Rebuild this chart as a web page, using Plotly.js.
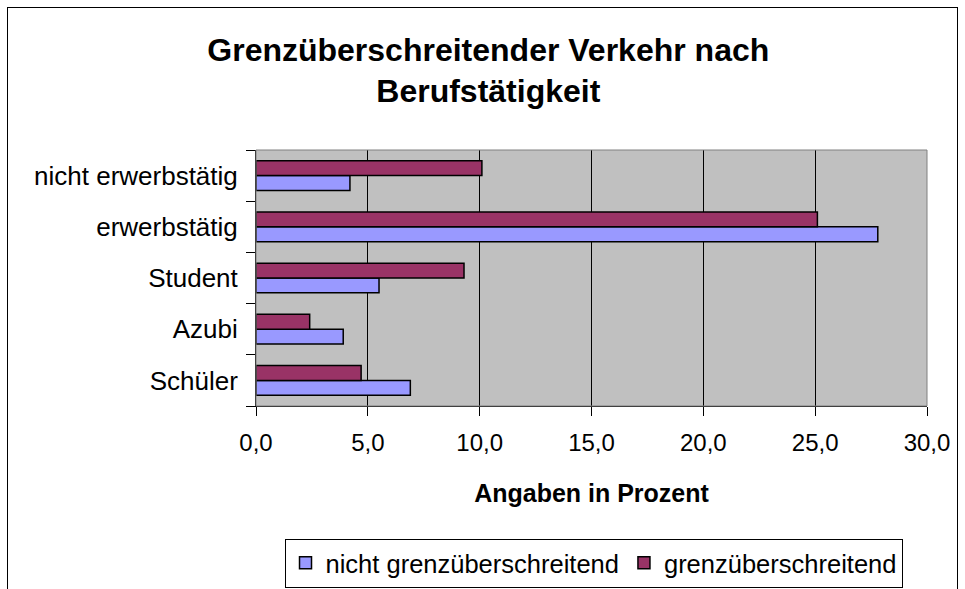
<!DOCTYPE html>
<html>
<head>
<meta charset="utf-8">
<script src="https://cdn.plot.ly/plotly-3.0.1.min.js"></script>
<style>
  html, body { margin: 0; padding: 0; background: #fff; overflow: hidden; }
  #chart { width: 965px; height: 589px; }
  #frame { position: absolute; left: 7px; top: 7px; width: 949px; height: 700px; border: 1px solid #000; pointer-events: none; }
</style>
</head>
<body>
<div id="chart"></div>
<div id="frame"></div>
<script>
const categories = ["Schüler", "Azubi", "Student", "erwerbstätig", "nicht erwerbstätig"];
const nichtGrenz = [6.9, 3.9, 5.5, 27.8, 4.2];
const grenz = [4.7, 2.4, 9.3, 25.1, 10.1];
const seriesNames = ["nicht grenzüberschreitend", "grenzüberschreitend"];
const tickVals = [0, 5, 10, 15, 20, 25, 30];

const FONT = "Arial, 'Liberation Sans', sans-serif";

const traces = [
  {
    type: "bar", orientation: "h", name: seriesNames[0],
    y: categories, x: nichtGrenz,
    marker: { color: "#9999FF", line: { color: "#000", width: 1.5 } }
  },
  {
    type: "bar", orientation: "h", name: seriesNames[1],
    y: categories, x: grenz,
    marker: { color: "#993366", line: { color: "#000", width: 1.5 } }
  }
];

const layout = {
  width: 965, height: 589,
  margin: { l: 256, r: 38, t: 150, b: 183, autoexpand: false },
  paper_bgcolor: "#fff",
  plot_bgcolor: "#C0C0C0",
  separators: ",.",
  font: { family: FONT, color: "#000", size: 24 },
  title: {
    text: "Grenzüberschreitender Verkehr nach<br>Berufstätigkeit",
    font: { family: FONT, size: 32, color: "#000", weight: "bold" },
    x: 0.506, xanchor: "center",
    y: 0.897, yanchor: "middle", yref: "container"
  },
  barmode: "group",
  bargap: 0.42,
  bargroupgap: 0,
  xaxis: {
    range: [0, 30],
    tickvals: tickVals,
    tickformat: ".1f",
    showgrid: true, gridcolor: "#000", gridwidth: 1,
    showline: true, linecolor: "#000", linewidth: 1,
    ticks: "outside", ticklen: 9, tickcolor: "#000",
    ticklabelstandoff: 6,
    tickfont: { family: FONT, size: 24 },
    zeroline: false,
    automargin: false,
    title: { text: "Angaben in Prozent", font: { family: FONT, size: 25, weight: "bold" }, standoff: 29 },
    fixedrange: true
  },
  yaxis: {
    type: "category",
    categoryorder: "array", categoryarray: categories,
    showgrid: false,
    showline: true, linecolor: "#000", linewidth: 1,
    ticks: "outside", ticklen: 9, tickcolor: "#000",
    tickson: "boundaries",
    ticklabelstandoff: 12,
    tickfont: { family: FONT, size: 26 },
    automargin: false,
    fixedrange: true
  },
  legend: {
    orientation: "h",
    x: 0.503, xanchor: "center",
    y: -0.518, yanchor: "top",
    bgcolor: "#fff", bordercolor: "#000", borderwidth: 1,
    font: { family: FONT, size: 25.5 },
    itemwidth: 30,
    traceorder: "normal"
  },
  shapes: [
    { type: "rect", xref: "paper", yref: "paper", x0: 0, x1: 1, y0: 0, y1: 1,
      line: { color: "#808080", width: 1 }, layer: "above" }
  ],
  showlegend: true
};

Plotly.newPlot("chart", traces, layout, { displayModeBar: false, staticPlot: true });
</script>
</body>
</html>
